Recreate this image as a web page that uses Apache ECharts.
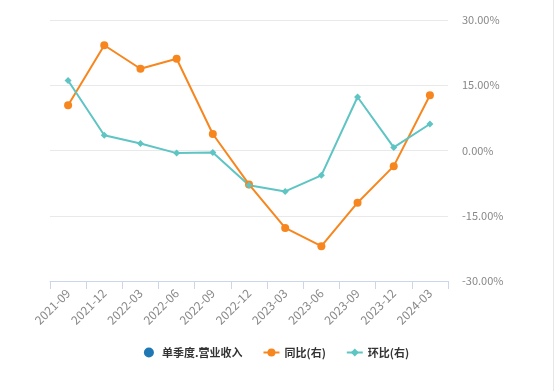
<!DOCTYPE html>
<html>
<head>
<meta charset="utf-8">
<script src="https://cdn.jsdelivr.net/npm/echarts@6/dist/echarts.min.js"></script>
<style>
  html, body { margin: 0; padding: 0; background: #fff; }
  #root { width: 553px; height: 391px; border-right: 1px solid #e6e6e6; }
</style>
</head>
<body>
<div id="root"></div>
<script>
const categories = ['2021-09', '2021-12', '2022-03', '2022-06', '2022-09', '2022-12', '2023-03', '2023-06', '2023-09', '2023-12', '2024-03']
const revenue = []
const yoy = [10.4, 24.2, 18.8, 21.1, 3.8, -7.8, -17.8, -22.0, -12.0, -3.6, 12.7]
const qoq = [16.1, 3.5, 1.6, -0.6, -0.45, -8.0, -9.4, -5.7, 12.3, 0.7, 6.1]

const chart = echarts.init(document.getElementById('root'))

const labelColor = '#888'
const fontFamily = '"Microsoft YaHei", "Noto Sans CJK SC", sans-serif'

chart.setOption({
  animation: false,
  textStyle: { fontFamily },
  grid: { left: 50, right: 105, top: 20, bottom: 110 },
  legend: {
    bottom: 28,
    left: 'center',
    itemGap: 20,
    itemWidth: 16,
    itemHeight: 10,
    textStyle: { color: '#333', fontSize: 11, fontWeight: 'bold', fontFamily },
    data: [
      { name: '单季度.营业收入', icon: 'circle', itemStyle: { color: '#1f77b4' } },
      { name: '同比(右)' },
      { name: '环比(右)' }
    ]
  },
  xAxis: {
    type: 'category',
    data: categories,
    boundaryGap: true,
    axisLine: { lineStyle: { color: '#ccd6eb' } },
    axisTick: { show: true, alignWithLabel: false, length: 8, lineStyle: { color: '#ccd6eb' } },
    axisLabel: { rotate: 45, color: labelColor, fontSize: 12, interval: 0, margin: 10 }
  },
  yAxis: [
    {
      type: 'value',
      position: 'left',
      show: false,
      splitLine: { show: false }
    },
    {
      type: 'value',
      position: 'right',
      min: -30,
      max: 30,
      interval: 15,
      axisLine: { show: false },
      axisTick: { show: false },
      splitLine: { lineStyle: { color: '#e9e9e9' } },
      axisLabel: {
        color: labelColor,
        fontSize: 11,
        margin: 14,
        formatter: v => v.toFixed(2) + '%'
      }
    }
  ],
  series: [
    {
      name: '单季度.营业收入',
      type: 'bar',
      yAxisIndex: 0,
      data: revenue,
      itemStyle: { color: '#1f77b4' }
    },
    {
      name: '同比(右)',
      type: 'line',
      yAxisIndex: 1,
      data: yoy,
      symbol: 'circle',
      symbolSize: 8,
      itemStyle: { color: '#f7861e' },
      lineStyle: { width: 2, color: '#f7861e' }
    },
    {
      name: '环比(右)',
      type: 'line',
      yAxisIndex: 1,
      data: qoq,
      symbol: 'diamond',
      symbolSize: 7,
      itemStyle: { color: '#5ec4c4' },
      lineStyle: { width: 2, color: '#5ec4c4' }
    }
  ]
})
</script>
</body>
</html>
